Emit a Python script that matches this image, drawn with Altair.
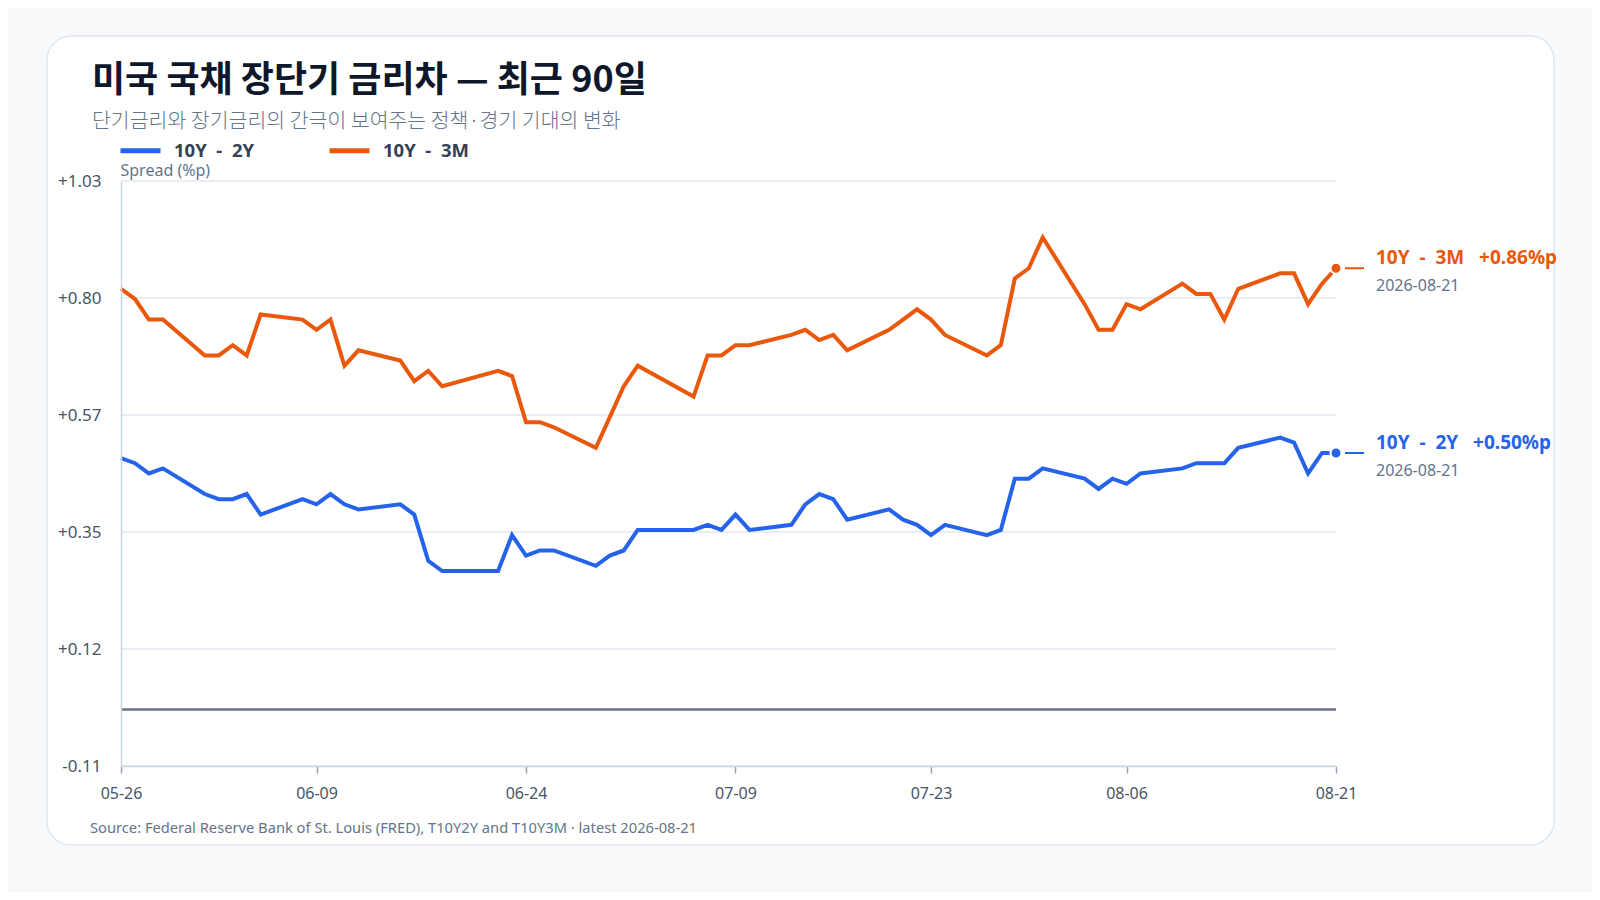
import altair as alt
import pandas as pd

# ---- data ----
DATES = [
    "2026-05-26", "2026-05-27", "2026-05-28", "2026-05-29",
    "2026-06-01", "2026-06-02", "2026-06-03", "2026-06-04", "2026-06-05",
    "2026-06-08", "2026-06-09", "2026-06-10", "2026-06-11", "2026-06-12",
    "2026-06-15", "2026-06-16", "2026-06-17", "2026-06-18",
    "2026-06-22", "2026-06-23", "2026-06-24", "2026-06-25", "2026-06-26",
    "2026-06-29", "2026-06-30", "2026-07-01", "2026-07-02",
    "2026-07-06", "2026-07-07", "2026-07-08", "2026-07-09", "2026-07-10",
    "2026-07-13", "2026-07-14", "2026-07-15", "2026-07-16", "2026-07-17",
    "2026-07-20", "2026-07-21", "2026-07-22", "2026-07-23", "2026-07-24",
    "2026-07-27", "2026-07-28", "2026-07-29", "2026-07-30", "2026-07-31",
    "2026-08-03", "2026-08-04", "2026-08-05", "2026-08-06", "2026-08-07",
    "2026-08-10", "2026-08-11", "2026-08-12", "2026-08-13", "2026-08-14",
    "2026-08-17", "2026-08-18", "2026-08-19", "2026-08-20", "2026-08-21",
]

SPREAD_10Y2Y = [
    0.49, 0.48, 0.46, 0.47,
    0.42, 0.41, 0.41, 0.42, 0.38,
    0.41, 0.40, 0.42, 0.40, 0.39,
    0.40, 0.38, 0.29, 0.27,
    0.27, 0.34, 0.30, 0.31, 0.31,
    0.28, 0.30, 0.31, 0.35,
    0.35, 0.36, 0.35, 0.38, 0.35,
    0.36, 0.40, 0.42, 0.41, 0.37,
    0.39, 0.37, 0.36, 0.34, 0.36,
    0.34, 0.35, 0.45, 0.45, 0.47,
    0.45, 0.43, 0.45, 0.44, 0.46,
    0.47, 0.48, 0.48, 0.48, 0.51,
    0.53, 0.52, 0.46, 0.50, 0.50,
]

SPREAD_10Y3M = [
    0.82, 0.80, 0.76, 0.76,
    0.69, 0.69, 0.71, 0.69, 0.77,
    0.76, 0.74, 0.76, 0.67, 0.70,
    0.68, 0.64, 0.66, 0.63,
    0.66, 0.65, 0.56, 0.56, 0.55,
    0.51, 0.57, 0.63, 0.67,
    0.61, 0.69, 0.69, 0.71, 0.71,
    0.73, 0.74, 0.72, 0.73, 0.70,
    0.74, 0.76, 0.78, 0.76, 0.73,
    0.69, 0.71, 0.84, 0.86, 0.92,
    0.79, 0.74, 0.74, 0.79, 0.78,
    0.83, 0.81, 0.81, 0.76, 0.82,
    0.85, 0.85, 0.79, 0.83, 0.86,
]

SERIES = ["10Y - 2Y", "10Y - 3M"]
COLORS = ["#2563eb", "#ea580c"]

X_TICK_DATES = [(5, 26), (6, 9), (6, 24), (7, 9), (7, 23), (8, 6), (8, 21)]
Y_TICKS = [-0.11, 0.118, 0.346, 0.574, 0.802, 1.03]
Y_DOMAIN = [-0.11, 1.03]

TITLE = ["미국 국채 장단기 금리차 — 최근 90일"]
SUBTITLE = ["단기금리와 장기금리의 간극이 보여주는 정책·경기 기대의 변화"]
SOURCE = ["Source: Federal Reserve Bank of St. Louis (FRED), T10Y2Y and T10Y3M · latest 2026-08-21"]
Y_TITLE = "Spread (%p)"

NB2 = "\u00a0\u00a0"
NB3 = "\u00a0\u00a0\u00a0"

# ---- tables ----
long_df = pd.DataFrame({
    "date": DATES * 2,
    "series": [SERIES[0]] * len(DATES) + [SERIES[1]] * len(DATES),
    "value": SPREAD_10Y2Y + SPREAD_10Y3M,
})
last_df = long_df[long_df["date"] == DATES[-1]].copy()
last_df["label"] = [
    f"{s.replace(' - ', NB2 + '-' + NB2)}{NB3}{v:+.2f}%p"
    for s, v in zip(last_df["series"], last_df["value"])
]
last_df["datelabel"] = DATES[-1]

grid_df = pd.DataFrame({"value": Y_TICKS})
zero_df = pd.DataFrame({"value": [0.0]})

LATIN = "Noto Sans, Noto Sans CJK KR, sans-serif"
KOREAN = "Noto Sans CJK KR, Noto Sans, sans-serif"

x_enc = alt.X(
    "date:T",
    scale=alt.Scale(type="utc",
                    domain=[alt.DateTime(year=2026, month=5, date=26, utc=True),
                            alt.DateTime(year=2026, month=8, date=21, utc=True)]),
    axis=alt.Axis(
        values=[alt.DateTime(year=2026, month=m, date=d, utc=True) for m, d in X_TICK_DATES],
        labelExpr="utcFormat(datum.value, '%m-%d')",
        labelFlush=False,
        grid=False, tickSize=7, tickColor="#94a3b8", tickWidth=1.5,
        domainColor="#cbd5e1", domainWidth=1.5, labelPadding=12,
        labelFontSize=16, labelColor="#475569", labelFont=LATIN,
        title=None, zindex=1,
    ),
)

y_enc = alt.Y(
    "value:Q",
    scale=alt.Scale(domain=Y_DOMAIN, nice=False, zero=False),
    axis=alt.Axis(
        values=Y_TICKS,
        labelExpr="(datum.value < 0 ? '-' : '+') + format(abs(datum.value), '.2f')",
        grid=False, ticks=False, tickSize=0,
        domainColor="#cbd5e1", domainWidth=1.5,
        labelPadding=20, labelFontSize=17, labelColor="#475569", labelFont=LATIN,
        title=Y_TITLE, titleAngle=0, titleX=-1, titleY=-11, titleAlign="left",
        titleBaseline="middle", titleFontSize=16, titleFontWeight="normal",
        titleColor="#64748b", titleFont=LATIN, zindex=1,
    ),
)

color_enc = alt.Color(
    "series:N",
    scale=alt.Scale(domain=SERIES, range=COLORS),
    legend=alt.Legend(
        orient="none", legendX=-3, legendY=-53, direction="horizontal",
        title=None, symbolType="stroke", symbolStrokeWidth=5, symbolSize=1600,
        labelFontSize=18.5, labelFontWeight="bold", labelColor="#334155",
        labelFont=LATIN, labelOffset=11, columnPadding=64, padding=0,
        labelExpr="replace(datum.label, ' - ', '\u00a0\u00a0-\u00a0\u00a0')",
    ),
)

one = pd.DataFrame({"k": [0]})

card = alt.Chart(one).mark_rect(
    fill="white", stroke="#e2e8f0", strokeWidth=1.5, cornerRadius=24
).encode(
    x=alt.value(-74), x2=alt.value(1433), y=alt.value(-145), y2=alt.value(664)
)

grid = alt.Chart(grid_df).mark_rule(color="#e2e8f0", strokeWidth=1.5).encode(y=y_enc)
zero = alt.Chart(zero_df).mark_rule(color="#64748b", strokeWidth=2.5).encode(y=y_enc)

lines = alt.Chart(long_df).mark_line(strokeWidth=4).encode(
    x=x_enc, y=y_enc, color=color_enc
)

leaders = alt.Chart(last_df).mark_rule(strokeWidth=2, xOffset=9, x2Offset=28).encode(
    x=x_enc, x2="date:T", y=y_enc, color=color_enc
)

dots = alt.Chart(last_df).mark_circle(size=120, opacity=1, stroke="white", strokeWidth=2).encode(
    x=x_enc, y=y_enc, color=color_enc
)

end_labels = alt.Chart(last_df).mark_text(
    align="left", baseline="middle", dx=40, dy=-10, fontSize=19, fontWeight="bold", font=LATIN
).encode(x=x_enc, y=y_enc, color=color_enc, text="label:N")

end_dates = alt.Chart(last_df).mark_text(
    align="left", baseline="middle", dx=40, dy=18, fontSize=16, color="#64748b", font=LATIN
).encode(x=x_enc, y=y_enc, text="datelabel:N")

title = alt.Chart(pd.DataFrame({"t": TITLE})).mark_text(
    align="left", baseline="middle", fontSize=36, fontWeight="bold", color="#0f172a", font=KOREAN
).encode(text="t:N", x=alt.value(-29), y=alt.value(-100))

subtitle = alt.Chart(pd.DataFrame({"t": SUBTITLE})).mark_text(
    align="left", baseline="middle", fontSize=20.5, fontWeight=300, color="#64748b", font=KOREAN
).encode(text="t:N", x=alt.value(-29), y=alt.value(-59))

source = alt.Chart(pd.DataFrame({"t": SOURCE})).mark_text(
    align="left", baseline="middle", fontSize=14.7, color="#64748b", font=LATIN
).encode(text="t:N", x=alt.value(-31), y=alt.value(648))

chart = alt.layer(
    card, grid, zero, lines, leaders, dots, end_labels, end_dates, title, subtitle, source
).properties(
    width=1215, height=585,
    autosize=alt.AutoSizeParams(type="none"),
    padding={"left": 113, "top": 173, "right": 256, "bottom": 126},
    background="#f7f9fb",
).configure_view(strokeWidth=0)

chart.save("out.html", embed_options={"renderer": "svg", "actions": False})
